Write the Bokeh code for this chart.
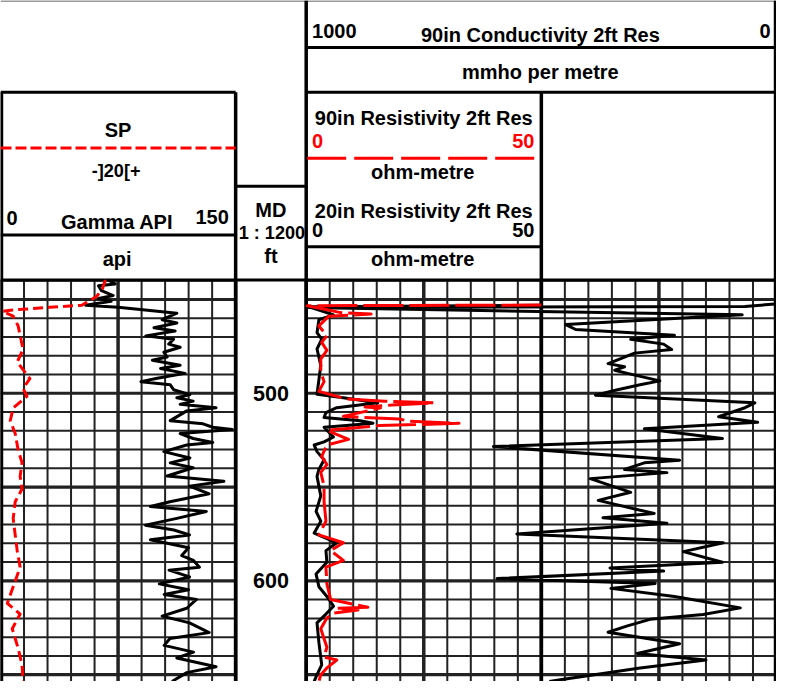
import numpy as np
from bokeh.plotting import figure
from bokeh.models import Range1d, Label
from bokeh.embed import file_html
from bokeh.resources import INLINE

gr_depth = [439.6, 441.7, 442.7, 445.3, 447.9, 449.5, 450.9, 453.1, 454.2, 455.7, 457.3,
            460.8, 462.5, 465.1, 466.8, 469.4, 471.2, 473.8, 475.5, 478.1, 480.7, 482.4,
            485.1, 486.8, 489.4, 492.0, 493.8, 495.5, 498.1, 500.7, 502.4, 504.2, 505.9,
            507.7, 509.4, 514.6, 516.3, 518.1, 519.3, 521.5, 524.1, 526.2, 527.6, 531.1,
            534.5, 537.1, 539.7, 544.1, 546.9, 549.5,
            553.6, 557.8, 560.4, 563.0, 566.7, 570.3, 572.9, 575.5, 578.1, 582.3, 586.5,
            589.1, 592.7, 594.3, 597.9, 601.6, 604.7, 607.3, 609.9, 614.6, 618.8, 622.4,
            627.6, 630.7, 634.4, 638.0, 641.1, 645.8, 648.9, 653.6]
gr_api = [68.8, 73.1, 62.5, 64.4, 71.9, 62.5, 70.6, 54.4, 75.0, 93.8, 112.5,
          103.1, 112.5, 97.9, 111.4, 92.7, 110.4, 107.3, 114.6, 104.2, 106.3, 96.9,
          114.6, 102.1, 117.7, 100.0, 89.6, 108.3, 110.4, 120.8, 112.5, 122.9, 114.6,
          137.5, 118.8, 108.3, 129.2, 135.4, 147.9, 114.6, 122.9, 135.4, 118.8, 104.2,
          120.8, 108.3, 122.9, 106.3, 142.5, 120.6,
          133.1, 108.1, 95.6, 131.3, 112.5, 92.5, 110.6, 120.6, 95.6, 120.0, 115.6,
          123.1, 126.9, 107.5, 120.6, 101.3, 120.0, 104.4, 125.0, 118.8, 103.1, 120.6,
          133.1, 108.1, 104.4, 123.1, 112.5, 137.5, 118.8, 109.4]

sp_depth = [439.6, 444.3, 448.4, 453.1, 454.2, 455.7, 456.3, 458.9, 464.1, 476.6, 483.3,
            492.2, 497.4, 501.6, 507.8, 514.6, 521.4, 530.2, 537.0, 544.3, 551.0, 557.8,
            566.7, 575.5, 583.9, 592.7, 603.1, 612.0, 617.7, 625.5, 635.9, 644.8, 653.6]
sp_mv = [-10.8, -13.3, -18.3, -30.8, -58.3, -91.7, -98.3, -89.2, -85.0, -80.8, -85.8,
         -75.0, -80.8, -77.5, -89.2, -91.7, -87.5, -85.0, -81.7, -83.3, -81.7, -87.5,
         -89.2, -87.5, -85.8, -83.3, -89.2, -94.2, -83.3, -90.0, -85.0, -81.7, -80.8]

res90_depth = [453.0, 453.3, 455.2, 457.0, 457.8, 458.9, 464.1, 469.3, 472.9, 477.1, 481.8,
               488.5, 493.8, 499.0, 503.0, 504.2, 505.1, 506.3, 507.3, 507.8, 512.3, 512.9,
               513.7, 514.9, 516.0, 516.7, 517.2, 519.8, 524.6, 527.6, 533.7, 538.0, 542.2,
               549.5, 557.8, 568.2, 575.5, 579.7, 583.9, 589.1, 592.7, 601.6, 609.9, 614.1,
               614.6, 615.6, 617.2, 619.8, 625.5, 635.4, 640.6, 642.2, 646.4, 650.0, 653.6]
res90_ohmm = [50.0, 0.2, 4.0, 7.3, 13.8, 4.8, 2.7, 4.4, 3.3, 4.4, 3.1,
              3.1, 3.8, 2.7, 8.5, 16.7, 27.1, 18.3, 12.5, 15.8, 7.9, 12.1,
              19.8, 21.9, 32.5, 23.5, 15.6, 4.4, 9.0, 4.4, 3.3, 4.4, 3.1,
              3.8, 3.8, 4.2, 2.7, 7.9, 5.2, 7.9, 4.2, 4.4, 5.2, 13.1,
              6.5, 11.0, 5.8, 4.4, 3.1, 4.4, 3.8, 6.5, 4.4, 3.1, 2.7]

res20_depth = [453.1, 453.9, 458.2, 460.8, 467.7, 471.2, 476.4, 485.1, 500.5, 502.4, 505.1,
               507.7, 510.3, 512.9, 514.6, 516.0, 517.2, 518.1, 523.3, 525.9, 527.6, 531.1,
               535.4, 540.6, 544.3, 554.7, 563.0, 568.2, 574.5, 579.7, 583.9, 590.1, 596.4,
               603.1, 608.3, 613.5, 617.7, 622.4, 632.8, 644.8, 650.0, 653.6]
res20_ohmm = [50.0, 0.6, 5.8, 2.7, 2.3, 3.3, 2.3, 3.1, 2.3, 7.9, 15.2,
              6.5, 4.2, 3.8, 11.5, 14.2, 8.5, 3.8, 5.8, 3.8, 1.7, 2.3,
              3.8, 2.7, 2.3, 3.1, 2.1, 3.1, 1.7, 6.5, 4.2, 4.4, 2.1,
              2.7, 4.4, 5.8, 4.2, 2.3, 2.7, 3.3, 2.3, 1.7]

cond_depth = [452.4, 453.8, 454.3, 458.2, 463.4, 466.0, 469.1, 471.2, 473.8, 476.7, 478.6,
              480.7, 484.2, 485.9, 487.7, 489.4, 493.4, 495.5, 498.1, 501.0, 505.1, 507.7,
              512.5, 515.5, 518.9, 524.1, 528.4, 535.7, 537.1, 540.6, 542.3, 545.5, 552.8,
              557.1, 564.1, 566.3, 569.3, 575.0, 579.7, 584.4, 590.1, 593.1, 594.8, 598.8,
              601.4, 604.0, 608.3, 614.4, 617.9, 620.5, 624.0, 627.4, 633.5, 638.7, 642.2,
              646.5, 652.6, 653.6]
cond_mmho = [4, 67, 998, 73, 448, 427, 217, 310, 240, 223, 302,
             323, 358, 323, 344, 317, 248, 290, 338, 385, 46, 67,
             123, 40, 281, 115, 602, 206, 281, 323, 233, 396, 310,
             379, 260, 369, 233, 552, 113, 198, 115, 354, 240, 594,
             258, 352, 217, 77, 156, 269, 317, 358, 206, 296, 150,
             290, 456, 483]

depth_labels = [500, 600]
gr_ticks = list(range(0, 151, 15))          # Gamma API, 10 divisions
res_ticks = list(range(0, 101, 5))          # ohm-metre, tracks 2 and 3 (0-50 per track)
depth_ticks = list(range(440, 651, 10))     # ft

# ---------------- layout (reference pixel frame) ----------------
W_REF, H_REF = 792, 697
FIG_W, FIG_H = 776, 681
S = FIG_H / H_REF
PX_PER_FT = 1.92
Y_AT_500 = 402.0
TRACK_TOP = 286


def depth_at(ypx):
    return 500 + (ypx - Y_AT_500) / PX_PER_FT


def lin_range(v0, px0, v1, px1):
    per = (v1 - v0) / (px1 - px0)
    return Range1d(start=v0 - px0 * per, end=v0 + (W_REF - px0) * per)


p = figure(width=FIG_W, height=FIG_H, x_range=Range1d(0, W_REF), y_range=Range1d(H_REF, 0),
           x_axis_location=None, y_axis_location=None, toolbar_location=None,
           output_backend="svg", min_border=0, outline_line_color=None,
           background_fill_color="white", border_fill_color="white")
p.xgrid.visible = False
p.ygrid.visible = False

p.extra_y_ranges = {"depth": Range1d(start=depth_at(H_REF), end=depth_at(0))}
p.extra_x_ranges = {
    "gr": lin_range(0, 0, 150, 240),
    "sp": lin_range(-100, 0, 100, 240),
    "res": lin_range(0, 312, 50, 552),
    "cond": lin_range(1000, 312, 0, 792),
}

d_top, d_bot = depth_at(TRACK_TOP), depth_at(H_REF)
GRID_C = "#222222"

# track 1 grid
p.segment(x0=gr_ticks, x1=gr_ticks, y0=[d_top] * len(gr_ticks), y1=[d_bot] * len(gr_ticks),
          x_range_name="gr", y_range_name="depth", line_color=GRID_C,
          line_width=[3.5 if t in (0, 75, 150) else 2 for t in gr_ticks])
p.segment(x0=[0] * len(depth_ticks), x1=[150] * len(depth_ticks), y0=depth_ticks, y1=depth_ticks,
          x_range_name="gr", y_range_name="depth", line_color=GRID_C,
          line_width=[3.2 if d % 50 == 0 else 2 for d in depth_ticks])
# tracks 2-3 grid
p.segment(x0=res_ticks, x1=res_ticks, y0=[d_top] * len(res_ticks), y1=[d_bot] * len(res_ticks),
          x_range_name="res", y_range_name="depth", line_color=GRID_C,
          line_width=[3.5 if t % 25 == 0 else 2 for t in res_ticks])
p.segment(x0=[0] * len(depth_ticks), x1=[100] * len(depth_ticks), y0=depth_ticks, y1=depth_ticks,
          x_range_name="res", y_range_name="depth", line_color=GRID_C,
          line_width=[3.2 if d % 50 == 0 else 2 for d in depth_ticks])

# header frame
hx0 = [312, 0, 312, 240, 0, 312, 0]
hx1 = [792, 240, 792, 312, 240, 552, 792]
hy = [48, 94, 94, 190, 240, 252, 286]
p.segment(x0=hx0, x1=hx1, y0=hy, y1=hy, line_color="black", line_width=3)
p.segment(x0=[0], x1=[792], y0=[0.5], y1=[0.5], line_color="#9a9a9a", line_width=2)
vx = [1, 240, 312, 552, 791]
vy0 = [94, 94, 0, 94, 0]
vy1 = [697, 697, 697, 697, 697]
p.segment(x0=vx, x1=vx, y0=vy0, y1=vy1, line_color="black", line_width=3.5)

# legend dashes
p.line(x=[0, 240], y=[151, 151], line_color="red", line_width=3, line_dash="11 4")
p.line(x=[313, 545], y=[161.5, 161.5], line_color="red", line_width=3, line_dash="39 8")

# curves
CW = 3
p.line(x=cond_mmho, y=cond_depth, x_range_name="cond", y_range_name="depth",
       line_color="black", line_width=CW, line_join="round")
p.line(x=res20_ohmm, y=res20_depth, x_range_name="res", y_range_name="depth",
       line_color="black", line_width=CW, line_join="round")
p.line(x=gr_api, y=gr_depth, x_range_name="gr", y_range_name="depth",
       line_color="black", line_width=CW, line_join="round")
p.line(x=list(np.minimum(res90_ohmm, 50)), y=res90_depth, x_range_name="res", y_range_name="depth",
       line_color="red", line_width=CW, line_dash="40 6", line_join="round")
p.line(x=sp_mv, y=sp_depth, x_range_name="sp", y_range_name="depth",
       line_color="red", line_width=CW, line_dash="10 5", line_join="round")

FONT = "Liberation Sans"


def lab(x, y, text, size=20.5, align="center", color="black", **kw):
    p.add_layout(Label(x=x, y=y, text=text, text_align=align, text_baseline="middle",
                       text_font=FONT, text_font_style="bold",
                       text_font_size=f"{size * S:.1f}px", text_color=color, **kw))


lab(318, 31, "1000", align="left")
lab(551, 35, "90in Conductivity 2ft Res")
lab(786, 31, "0", align="right")
lab(551, 73, "mmho per metre")
lab(432, 120, "90in Resistivity 2ft Res")
lab(318, 144, "0", align="left", color="red")
lab(545, 144, "50", align="right", color="red")
lab(431, 176, "ohm-metre")
lab(432, 215, "20in Resistivity 2ft Res")
lab(318, 235, "0", align="left")
lab(545, 235, "50", align="right")
lab(431, 265, "ohm-metre")
lab(120, 133, "SP")
lab(118, 175, "-]20[+", size=18.5)
lab(6, 223, "0", align="left")
lab(119, 227, "Gamma API")
lab(233, 222, "150", align="right")
lab(119, 265, "api")
lab(276, 214, "MD")
lab(277, 238, "1 : 1200", size=18.5)
lab(276, 262, "ft")
for d in depth_labels:
    lab(276, d, str(d), size=22, y_range_name="depth")

open("out.html", "w").write(file_html(p, INLINE))
